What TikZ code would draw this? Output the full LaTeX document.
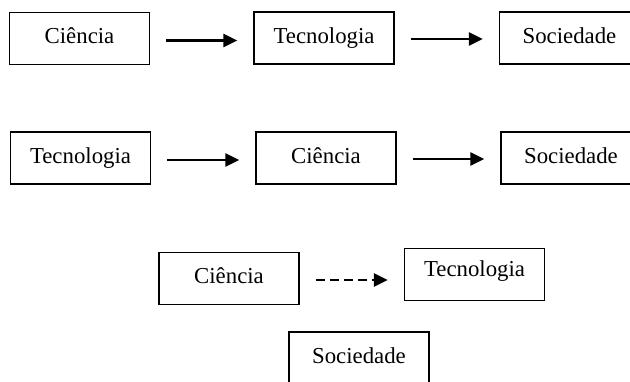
\documentclass[tikz,border=0pt]{standalone}
\usepackage{fontspec}
\setmainfont{Liberation Serif}
\usetikzlibrary{arrows.meta}
\begin{document}
\begin{tikzpicture}[x=1pt,y=-1pt,
  box/.style={draw, line width=1.5pt, minimum width=140pt, minimum height=52pt, inner sep=0pt,
    font=\fontsize{22.8}{27}\selectfont, text height=16pt, text depth=5.5pt},
  boxlow/.style={box, text depth=11pt},
  arr/.style={line width=2.6pt, -{Triangle[length=14pt,width=13pt]}, shorten <=16pt, shorten >=16pt},
  darr/.style={arr, dash pattern=on 9pt off 5pt}]
\useasboundingbox (0,0) rectangle (630,382);
\clip (0,0) rectangle (630,382);
% row 1
\node[box] (c1) at (79.5,38.5) {Ciência};
\node[box] (t1) at (324,38) {Tecnologia};
\node[box] (s1) at (569.5,38) {Sociedade};
\draw[arr] ([yshift=-2]c1.east) -- ([yshift=-2]c1.east -| t1.west);
\draw[arr] ([yshift=-1]t1.east) -- ([yshift=-1]t1.east -| s1.west);
% row 2
\node[box] (t2) at (80.5,158) {Tecnologia};
\node[box] (c2) at (326,158) {Ciência};
\node[box] (s2) at (571,158) {Sociedade};
\draw[arr] ([yshift=-2]t2.east) -- ([yshift=-2]t2.east -| c2.west);
\draw[arr] ([yshift=-1]c2.east) -- ([yshift=-1]c2.east -| s2.west);
% row 3
\node[box] (c3) at (229,278.5) {Ciência};
\node[boxlow] (t3) at (474.5,274.5) {Tecnologia};
\node[box] (s3) at (359,358) {Sociedade};
\draw[darr] ([yshift=-1.5]c3.east) -- ([yshift=-1.5]c3.east -| t3.west);
\end{tikzpicture}
\end{document}
